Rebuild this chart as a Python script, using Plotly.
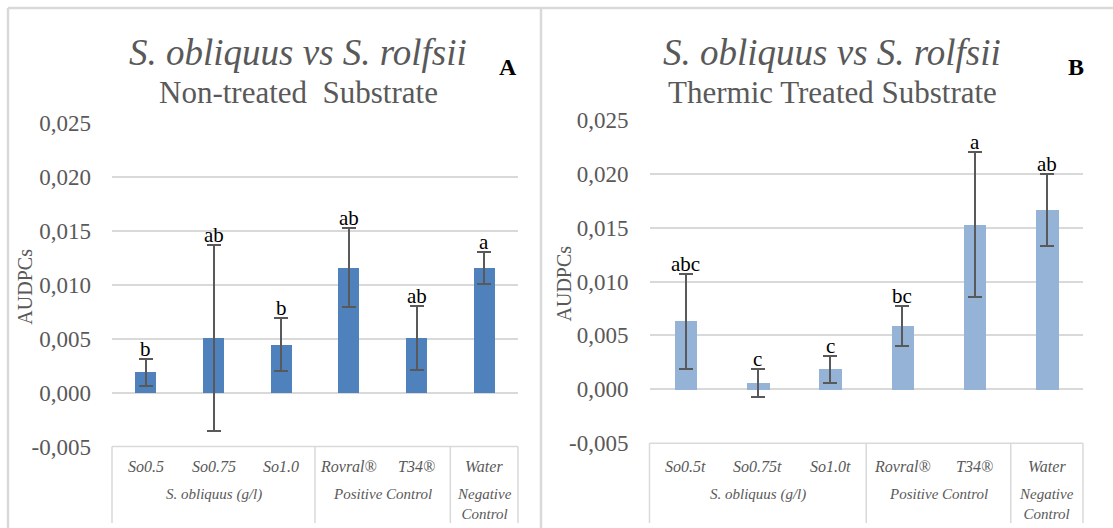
import plotly.graph_objects as go

# ---- data -------------------------------------------------------------
labels_a = ["So0.5", "So0.75", "So1.0", "Rovral®", "T34®", "Water"]
labels_b = ["So0.5t", "So0.75t", "So1.0t", "Rovral®", "T34®", "Water"]
groups = ["S. obliquus (g/l)", "Positive Control", "Negative<br>Control"]
group_spans = [(0, 2), (3, 4), (5, 5)]

audpc_a = [0.00188, 0.00506, 0.00445, 0.01156, 0.00506, 0.01156]
err_a = [0.00127, 0.00860, 0.00245, 0.00365, 0.00295, 0.00148]
letters_a = ["b", "ab", "b", "ab", "ab", "a"]

audpc_b = [0.00631, 0.00056, 0.00186, 0.00587, 0.01527, 0.01663]
err_b = [0.00440, 0.00128, 0.00127, 0.00188, 0.00672, 0.00337]
letters_b = ["abc", "c", "c", "bc", "a", "ab"]

y_ticks = [-0.005, 0.0, 0.005, 0.010, 0.015, 0.020, 0.025]
y_ticktext = ["-0,005", "0,000", "0,005", "0,010", "0,015", "0,020", "0,025"]

# ---- page geometry ----------------------------------------------------
W, H = 1113, 528
SERIF = "Liberation Serif, Times New Roman, serif"
GREY = "#595959"
LINE = "#D9D9D9"


def px(x):
    return x / W


def py(y):
    return 1 - y / H


def note(x, y, text, size, color=GREY, **kw):
    d = dict(x=px(x), y=py(y), xref="paper", yref="paper", text=text,
             showarrow=False, xanchor="center", yanchor="middle",
             font=dict(family=SERIF, size=size, color=color))
    d.update(kw)
    return d


panels = [
    dict(xa="x", ya="y", x0=112, x1=518, ytop=122.8, ybot=446.5,
         vals=audpc_a, errs=err_a, letters=letters_a, cats=labels_a,
         color="#4F81BD", title_x=298, letter="A", letter_x=508,
         sub="Non-treated\u00a0 Substrate", ytitle_x=25),
    dict(xa="x2", ya="y2", x0=649.5, x1=1083, ytop=119.8, ybot=443.2,
         vals=audpc_b, errs=err_b, letters=letters_b, cats=labels_b,
         color="#95B3D7", title_x=832, letter="B", letter_x=1076,
         sub="Thermic Treated Substrate", ytitle_x=563),
]

fig = go.Figure()
shapes = []
annotations = []

for i, p in enumerate(panels):
    sfx = "" if i == 0 else "2"
    xs = list(range(len(p["vals"])))
    fig.add_trace(go.Bar(
        x=xs, y=p["vals"], width=0.31,
        marker=dict(color=p["color"], line=dict(width=0)),
        error_y=dict(type="data", array=p["errs"], visible=True,
                     color=GREY, thickness=2, width=7),
        xaxis=p["xa"], yaxis=p["ya"], showlegend=False, hoverinfo="skip",
    ))

    fig.layout["xaxis" + sfx] = dict(
        domain=[px(p["x0"]), px(p["x1"])], range=[-0.5, 5.5],
        showticklabels=False, showgrid=False, zeroline=False,
        showline=False, anchor="y" + sfx, fixedrange=True, automargin=False,
    )
    fig.layout["yaxis" + sfx] = dict(
        domain=[py(p["ybot"]), py(p["ytop"])], range=[-0.005, 0.025],
        tickvals=y_ticks, ticktext=y_ticktext,
        tickfont=dict(family=SERIF, size=23, color=GREY),
        showgrid=True, gridcolor=LINE, gridwidth=1.5,
        zeroline=False, showline=False, ticks="",
        ticklabelstandoff=20, anchor="x" + sfx, fixedrange=True,
        automargin=False,
    )

    # significance letters above the error bars
    for j, (v, e, t) in enumerate(zip(p["vals"], p["errs"], p["letters"])):
        annotations.append(dict(
            x=j, y=v + e, xref=p["xa"], yref=p["ya"], text=t,
            showarrow=False, xanchor="center", yanchor="bottom", yshift=-4,
            font=dict(family=SERIF, size=21, color="black"),
        ))

    # titles
    annotations.append(note(p["title_x"], 53,
                            "<i>S. obliquus vs S. rolfsii</i>", 37))
    annotations.append(note(p["title_x"], 92, p["sub"], 31))
    annotations.append(note(p["letter_x"], 67, "<b>%s</b>" % p["letter"],
                            24, color="black"))
    annotations.append(note(p["ytitle_x"], (p["ytop"] + p["ybot"]) / 2 + 2,
                            "AUDPCs", 20, textangle=-90))

    # two-level category axis box
    step = (p["x1"] - p["x0"]) / 6
    box_top = p["ybot"]
    shapes.append(dict(type="line", xref="paper", yref="paper",
                       x0=px(p["x0"]), x1=px(p["x1"]),
                       y0=py(box_top), y1=py(box_top),
                       line=dict(color=LINE, width=1.5)))
    for k in [0, 3, 5, 6]:
        xx = p["x0"] + k * step
        shapes.append(dict(type="line", xref="paper", yref="paper",
                           x0=px(xx), x1=px(xx), y0=py(box_top), y1=py(523),
                           line=dict(color=LINE, width=1.5)))
    for j, c in enumerate(p["cats"]):
        annotations.append(dict(
            x=j, y=py(466), xref=p["xa"], yref="paper",
            text="<i>%s</i>" % c, showarrow=False,
            xanchor="center", yanchor="middle",
            font=dict(family=SERIF, size=16, color=GREY),
        ))
    for g, (a, b) in zip(groups, group_spans):
        annotations.append(dict(
            x=(a + b) / 2, y=py(484), xref=p["xa"], yref="paper",
            text="<i>%s</i>" % g, showarrow=False,
            xanchor="center", yanchor="top",
            font=dict(family=SERIF, size=15, color=GREY),
        ))

# outer panel frames
for seg in [(8, 8, 8, 528), (8, 8, 1113, 8), (541, 8, 541, 528)]:
    shapes.append(dict(type="line", xref="paper", yref="paper",
                       x0=px(seg[0]), y0=py(seg[1]), x1=px(seg[2]), y1=py(seg[3]),
                       line=dict(color=LINE, width=2.5)))

fig.update_layout(
    width=W, height=H, margin=dict(l=0, r=0, t=0, b=0, autoexpand=False),
    paper_bgcolor="white", plot_bgcolor="white",
    shapes=shapes, annotations=annotations, bargap=0,
)

fig.write_html("out.html")
